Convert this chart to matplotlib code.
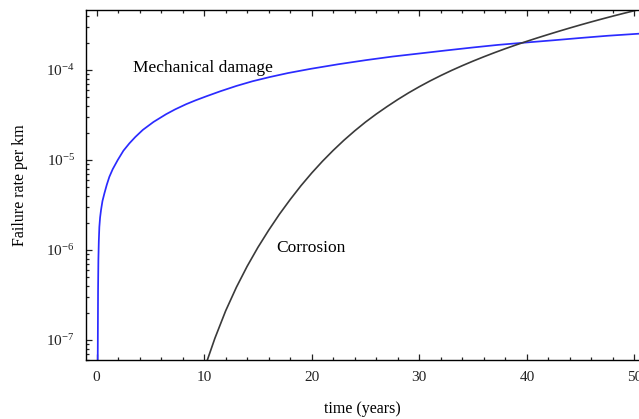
import matplotlib
matplotlib.use("Agg")
import matplotlib.pyplot as plt
from matplotlib.ticker import LogLocator, MultipleLocator, NullFormatter

plt.rcParams['font.family'] = ['Liberation Serif', 'DejaVu Serif']
plt.rcParams['mathtext.fontset'] = 'custom'
plt.rcParams['mathtext.rm'] = 'Liberation Serif'
plt.rcParams['mathtext.it'] = 'Liberation Serif:italic'

# failure rate curves (per km), time in years
mech_t = [0.11, 0.14, 0.17, 0.21, 0.26, 0.33, 0.42, 0.55, 0.73, 0.95, 1.19,
          1.5, 1.97, 2.5, 3.05, 3.6, 4.3, 5.3, 6.47, 7.3, 8.33, 9.2, 10.2,
          11.5, 13.0, 14.5, 16.1, 17.8, 19.9, 22.5, 25.1, 27.5, 30.1, 32.5,
          35.0, 37.3, 39.7, 42.5, 45.0, 47.5, 50.4]
mech_rate = [6.0e-8, 3.5e-7, 7.7e-7, 1.25e-6, 1.8e-6, 2.3e-6, 2.8e-6, 3.5e-6,
             4.26e-6, 5.3e-6, 6.5e-6, 7.9e-6, 1.0e-5, 1.27e-5, 1.53e-5,
             1.8e-5, 2.16e-5, 2.65e-5, 3.23e-5, 3.65e-5, 4.17e-5, 4.6e-5,
             5.1e-5, 5.8e-5, 6.65e-5, 7.5e-5, 8.35e-5, 9.25e-5, 1.03e-4,
             1.16e-4, 1.29e-4, 1.41e-4, 1.53e-4, 1.65e-4, 1.78e-4, 1.9e-4,
             2.01e-4, 2.14e-4, 2.27e-4, 2.4e-4, 2.53e-4]

corr_t = [10.3, 11, 12, 13, 14, 15, 16, 17, 18, 19, 20, 21, 22, 23, 24, 25,
          26, 27, 28, 29, 30, 31, 32, 33, 34, 35, 36, 37, 38, 39, 40, 41, 42,
          43, 44, 45, 46, 47, 48, 49, 50, 50.42]
corr_rate = [6.0e-8, 1.046e-7, 2.11e-7, 3.86e-7, 6.6e-7, 1.07e-6, 1.66e-6,
             2.5e-6, 3.64e-6, 5.18e-6, 7.17e-6, 9.69e-6, 1.28e-5, 1.66e-5,
             2.11e-5, 2.64e-5, 3.24e-5, 3.92e-5, 4.7e-5, 5.57e-5, 6.52e-5,
             7.56e-5, 8.68e-5, 9.89e-5, 1.118e-4, 1.256e-4, 1.403e-4,
             1.56e-4, 1.726e-4, 1.901e-4, 2.084e-4, 2.278e-4, 2.483e-4,
             2.701e-4, 2.931e-4, 3.174e-4, 3.428e-4, 3.694e-4, 3.972e-4,
             4.261e-4, 4.56e-4, 4.69e-4]

fig = plt.figure(figsize=(6.39, 4.19), dpi=100)
ax = fig.add_axes([86 / 639, 59 / 419, 553 / 639, 350 / 419])

ax.plot(mech_t, mech_rate, color='#2b2bff', lw=1.25, solid_joinstyle='round')
ax.plot(corr_t, corr_rate, color='#3a3a3a', lw=1.2, solid_joinstyle='round')

ax.set_yscale('log')
ax.set_xlim(-0.98, 50.42)
ax.set_ylim(6.0e-8, 4.64e-4)

ax.xaxis.set_major_locator(MultipleLocator(10))
ax.xaxis.set_minor_locator(MultipleLocator(2))
ax.yaxis.set_major_locator(LogLocator(base=10, numticks=10))
ax.yaxis.set_minor_locator(LogLocator(base=10, subs=range(2, 10), numticks=10))
ax.yaxis.set_minor_formatter(NullFormatter())

ax.spines['right'].set_visible(False)
for s in ['left', 'bottom', 'top']:
    ax.spines[s].set_linewidth(1.0)

ax.tick_params(which='both', direction='in', top=True, right=False,
               labelsize=11, colors='#222222', width=0.9)
ax.tick_params(which='major', length=4.5, pad=8)
ax.tick_params(which='minor', length=2.5)

ax.text(3.4, 1.05e-4, 'Mechanical damage', fontsize=12.5, va='center')
ax.text(16.7, 1.05e-6, 'Corrosion', fontsize=12.5, va='center')

ax.set_xlabel('time (years)', fontsize=11.5, labelpad=12)
ax.set_ylabel('Failure rate per km', fontsize=11.5, labelpad=13)

fig.savefig('out.png', dpi=100)
